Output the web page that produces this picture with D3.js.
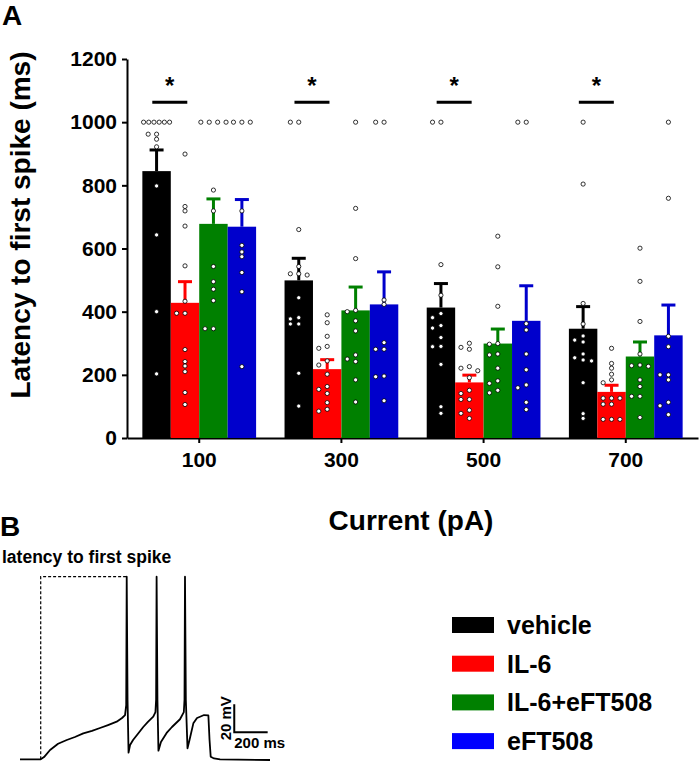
<!DOCTYPE html>
<html><head><meta charset="utf-8">
<script src="https://cdn.jsdelivr.net/npm/d3@7"></script>
<style>
body{margin:0;background:#fff}
text{font-family:"Liberation Sans",Arial,Helvetica,sans-serif;font-weight:bold;fill:#000}
</style>
</head><body><svg id="c" width="700" height="763"></svg>
<script>
// ---------- DATA ----------
const groups = ["100", "300", "500", "700"];
const seriesNames = ["vehicle", "IL-6", "IL-6+eFT508", "eFT508"];
const barColors = ["#000000", "#ff0000", "#008000", "#0000cc"];
const legendColors = ["#000000", "#ff0000", "#008000", "#0000ff"];
const yTicks = [0, 200, 400, 600, 800, 1000, 1200];

const vehicleMean = [845, 499, 413, 346];
const il6Mean     = [428, 218, 176, 146];
const comboMean   = [678, 404, 299, 258];
const eftMean     = [669, 423, 371, 325];

const vehicleSem = [67, 70, 76, 70];
const il6Sem     = [67, 30, 23, 21];
const comboSem   = [79, 74, 46, 46];
const eftSem     = [86, 103, 111, 96];

const vehiclePts = [
  [1000,1000,1000,1000,1000,1000,962,962,946,922,798,643,400,203],
  [1000,1000,660,543,520,520,516,444,381,377,361,361,205,101],
  [1000,1000,549,452,394,381,356,348,318,290,289,233,99,78],
  [1000,804,426,361,323,310,304,266,254,247,244,175,77,62]
];
const il6Pts = [
  [899,733,719,671,545,433,395,395,280,242,228,210,144,106],
  [390,365,322,290,284,244,231,202,163,154,141,112,91,85],
  [300,287,281,226,221,213,191,151,141,122,122,88,78,62],
  [284,236,221,202,184,175,126,126,126,107,107,59,59,59]
];
const comboPts = [
  [1000,1000,1000,1000,785,719,543,495,471,435,346,346],
  [1000,727,568,404,400,371,339,263,250,242,184,114],
  [639,542,417,299,297,266,263,221,181,173,151,143],
  [601,496,369,266,231,229,227,184,163,132,132,65]
];
const eftPts = [
  [1000,1000,1000,719,610,589,574,524,463,226],
  [1000,1000,437,423,302,281,281,196,194,118],
  [1000,1000,362,342,266,216,168,159,113,90],
  [1000,759,322,289,200,200,184,113,102,74]
];
const sigGroups = ["100", "300", "500", "700"];

// Panel B trace: time (ms) and membrane potential (mV)
const traceT = [0,124,144,180,228,280,329,379,431,479,527,579,611,629,636,639,644,650,659,677,710,738,766,798,811,815,818,823,829,844,878,910,958,981,985,988,993,1003,1015,1038,1060,1078,1102,1128,1135,1142,1162,1198,1497];
const traceV = [-65,-65,-63.4,-58.4,-54,-51.3,-49.2,-46.6,-44.9,-42.8,-40.7,-38.3,-35.7,-33.6,-26.5,64.5,-23,-60.3,-54.9,-51.3,-46.3,-42.1,-38.5,-34.8,-31.5,-22.8,64.5,-22.8,-58.9,-52.7,-46.3,-42.1,-36.6,-31.5,-22.8,64.5,-22.8,-57.2,-51.3,-39.5,-35.7,-34.8,-33.6,-33.9,-51.3,-63.2,-64.4,-65,-65.5];
const stepOnset = 124, firstSpikeT = 639, spikePeak = 64.5;
const scaleBarT = 1283, scaleBarV = -45.9, scaleBarMs = 200, scaleBarMv = 20;

// ---------- CHART ----------
const svg = d3.select("#c");
const means = [vehicleMean, il6Mean, comboMean, eftMean];
const sems = [vehicleSem, il6Sem, comboSem, eftSem];
const pts = [vehiclePts, il6Pts, comboPts, eftPts];

const x0 = d3.scaleBand().domain(groups).range([127, 698]).paddingInner(0.2).paddingOuter(0.108);
const x1 = d3.scaleBand().domain(d3.range(seriesNames.length)).range([0, x0.bandwidth()]);
const y = d3.scaleLinear().domain([0, 1200]).range([438, 59]);

// axes
const yAxis = svg.append("g").attr("transform", "translate(127,0)")
  .call(d3.axisLeft(y).tickValues(yTicks).tickFormat(d3.format("d")).tickSize(5).tickSizeOuter(0).tickPadding(5));
yAxis.selectAll("text").style("font-size", "21px").style("font-family", "Liberation Sans, Arial").style("font-weight", "bold");
yAxis.selectAll("line,path").attr("stroke", "#000").attr("stroke-width", 2);

const xAxis = svg.append("g").attr("transform", "translate(0,438)")
  .call(d3.axisBottom(x0).tickSize(5).tickSizeOuter(0).tickPadding(9));
xAxis.selectAll("text").style("font-size", "21px").style("font-family", "Liberation Sans, Arial").style("font-weight", "bold");
xAxis.selectAll("line,path").attr("stroke", "#000").attr("stroke-width", 2);

// bars
const bw = x1.bandwidth();
groups.forEach((g, gi) => {
  means.forEach((m, si) => {
    const bx = x0(g) + x1(si);
    svg.append("rect").attr("x", bx).attr("y", y(m[gi])).attr("width", bw)
      .attr("height", y(0) - y(m[gi])).attr("fill", barColors[si]);
  });
});
// error bars (upper)
groups.forEach((g, gi) => {
  means.forEach((m, si) => {
    const cx = x0(g) + x1(si) + bw / 2;
    const top = y(m[gi] + sems[si][gi]);
    svg.append("line").attr("x1", cx).attr("x2", cx).attr("y1", y(m[gi])).attr("y2", top)
      .attr("stroke", barColors[si]).attr("stroke-width", 3);
    svg.append("line").attr("x1", cx - 7).attr("x2", cx + 7).attr("y1", top).attr("y2", top)
      .attr("stroke", barColors[si]).attr("stroke-width", 3);
  });
});

// dots, dodged
const R = 2.1, STEP = 8.4;
function dodge(vals) {
  const sorted = vals.slice().sort((a, b) => b - a);
  const counts = d3.rollup(sorted, v => v.length, d => d);
  const placed = [];
  counts.forEach((n, v) => {
    if (n >= 3) {
      const s = Math.min(STEP, 26 / (n - 1));
      for (let i = 0; i < n; i++) placed.push({ v, dx: (i - (n - 1) / 2) * s, yy: y(v) });
    }
  });
  sorted.filter(v => counts.get(v) < 3).forEach(v => {
    const yy = y(v);
    for (let k = 0; k < 20; k++) {
      const dx = k === 0 ? 0 : (k % 2 ? -1 : 1) * Math.ceil(k / 2) * STEP;
      if (placed.every(p => (p.dx - dx) ** 2 + (p.yy - yy) ** 2 >= (2 * R + 0.1) ** 2)) {
        placed.push({ v, dx, yy }); break;
      }
    }
  });
  return placed;
}
groups.forEach((g, gi) => {
  pts.forEach((p, si) => {
    const cx = x0(g) + x1(si) + bw / 2;
    dodge(p[gi]).forEach(d => {
      svg.append("circle").attr("cx", cx + d.dx).attr("cy", d.yy).attr("r", R)
        .attr("fill", "#fff").attr("stroke", "#000").attr("stroke-width", 0.8);
    });
  });
});

// significance
sigGroups.forEach(g => {
  const cx = x0(g) + x1(1) - 1;
  svg.append("line").attr("x1", cx - 17.5).attr("x2", cx + 17.5).attr("y1", 102.3).attr("y2", 102.3)
    .attr("stroke", "#000").attr("stroke-width", 3);
  svg.append("text").attr("x", cx).attr("y", 94).attr("text-anchor", "middle")
    .style("font-size", "24px").text("*");
});

// titles
svg.append("text").attr("transform", "translate(30,225) rotate(-90)").attr("text-anchor", "middle")
  .style("font-size", "28px").text("Latency to first spike (ms)");
svg.append("text").attr("x", 411).attr("y", 530).attr("text-anchor", "middle")
  .style("font-size", "28px").text("Current (pA)");
svg.append("text").attr("x", 2).attr("y", 25).style("font-size", "28px").text("A");
svg.append("text").attr("x", 0).attr("y", 536).style("font-size", "28px").text("B");

// ---------- PANEL B ----------
const tx = d3.scaleLinear().domain([0, 1000]).range([20, 20 + 167]);
const ty = d3.scaleLinear().domain([-65, -45]).range([759.3, 759.3 - 28.2]);
svg.append("text").attr("x", 2).attr("y", 563).style("font-size", "17.5px").text("latency to first spike");
svg.append("path")
  .attr("d", d3.line()([[tx(stepOnset), ty(-65)], [tx(stepOnset), ty(spikePeak)], [tx(firstSpikeT), ty(spikePeak)]]))
  .attr("fill", "none").attr("stroke", "#000").attr("stroke-width", 1.2).attr("stroke-dasharray", "3,2");
svg.append("path")
  .attr("d", d3.line().x((d, i) => tx(traceT[i])).y((d, i) => ty(traceV[i]))(traceT))
  .attr("fill", "none").attr("stroke", "#000").attr("stroke-width", 1.8).attr("stroke-linejoin", "round");
// scale bar
svg.append("path")
  .attr("d", d3.line()([[tx(scaleBarT), ty(scaleBarV + scaleBarMv)], [tx(scaleBarT), ty(scaleBarV)], [tx(scaleBarT + scaleBarMs), ty(scaleBarV)]]))
  .attr("fill", "none").attr("stroke", "#000").attr("stroke-width", 2);
svg.append("text").attr("transform", `translate(${tx(scaleBarT) - 3},${ty(scaleBarV + scaleBarMv / 2)}) rotate(-90)`)
  .attr("text-anchor", "middle").style("font-size", "15px").text("20 mV");
svg.append("text").attr("x", tx(scaleBarT)).attr("y", ty(scaleBarV) + 16).style("font-size", "15px").text("200 ms");

// legend
const lg = svg.append("g");
seriesNames.forEach((n, i) => {
  const cy = 625 + i * 38.7;
  lg.append("rect").attr("x", 452).attr("y", cy - 8).attr("width", 42).attr("height", 16).attr("fill", legendColors[i]);
  lg.append("text").attr("x", 507).attr("y", cy).attr("dy", "0.36em").style("font-size", "25px").text(n);
});
</script></body></html>
